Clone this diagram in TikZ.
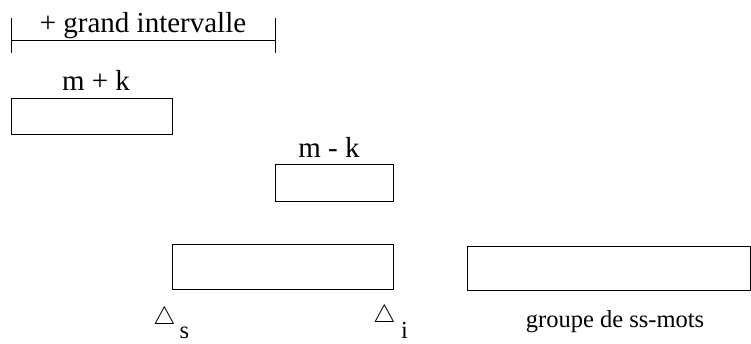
\documentclass[tikz,border=0pt]{standalone}
\usepackage{fontspec}
\setmainfont{Liberation Serif}
\begin{document}
\begin{tikzpicture}[x=1pt,y=-1pt,
  box/.style={draw,line width=0.9pt,inner sep=0pt,anchor=north west},
  big/.style={font=\fontsize{29}{31}\selectfont,inner sep=0pt,anchor=base},
  small/.style={font=\fontsize{24.5}{26}\selectfont,inner sep=0pt,anchor=base},
  tri/.style={font=\fontsize{23.5}{25}\selectfont,inner sep=0pt},
  line/.style={line width=0.9pt}]
\useasboundingbox (0,0) rectangle (751,343);
% interval
\coordinate (lt) at (11,18);
\coordinate (lb) at (11,53);
\coordinate (lm) at (11,40);
\coordinate (rt) at (275,18);
\coordinate (rb) at (275,53);
\coordinate (rm) at (275,40);
\draw[line] (lt) -- (lb);
\draw[line] (rt) -- (rb);
\draw[line] (lm) -- (rm);
\node[big] (gi) at (143,32) {+ grand intervalle};
% boxes
\node[big] (mpk) at (96,90) {m + k};
\node[box,minimum width=161pt,minimum height=36pt] (bmpk) at (11,98) {};
\node[big] (mmk) at (329,157) {m - k};
\node[box,minimum width=118pt,minimum height=37pt] (bmmk) at (275,164) {};
\node[box,minimum width=221pt,minimum height=45pt] (bmid) at (172,244) {};
\node[box,minimum width=283pt,minimum height=44pt] (bright) at (467,246) {};
% labels
\node[tri] (ts) at (164.5,318.5) {$\triangle$};
\node[small] (ss) at (184.5,338) {s};
\node[tri] (ti) at (384.5,316.5) {$\triangle$};
\node[small] (si) at (404.5,338) {i};
\node[small] (grp) at (615,327) {groupe de ss-mots};
\end{tikzpicture}
\end{document}
